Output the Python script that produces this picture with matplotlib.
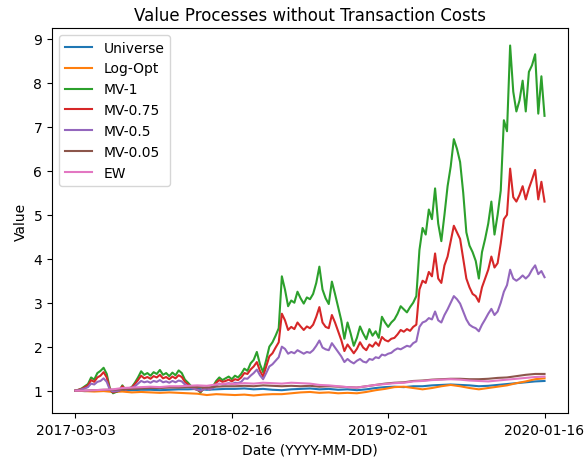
import matplotlib
matplotlib.use("Agg")
import matplotlib.pyplot as plt
import pandas as pd

start_date = "2017-03-03"
end_date = "2020-01-16"
tick_labels = ["2017-03-03", "2018-02-16", "2019-02-01", "2020-01-16"]

# weekly grid (151 points) for the MV strategies
mv_1 = [1.00, 1.02, 1.05, 1.10, 1.15, 1.30, 1.25, 1.40, 1.45, 1.52,
        1.38, 1.05, 0.94, 0.97, 1.00, 1.12, 1.02, 1.05, 1.08, 1.18,
        1.30, 1.44, 1.36, 1.40, 1.34, 1.42, 1.38, 1.47, 1.36, 1.40,
        1.33, 1.41, 1.35, 1.46, 1.40, 1.25, 1.18, 1.10, 1.05, 1.02,
        0.96, 1.05, 1.08, 1.04, 1.10, 1.22, 1.30, 1.24, 1.28, 1.32,
        1.26, 1.34, 1.30, 1.38, 1.50, 1.45, 1.62, 1.70, 1.88, 1.60,
        1.42, 1.70, 2.00, 2.10, 2.25, 2.42, 3.60, 3.30, 2.92, 3.05,
        3.00, 3.25, 3.10, 2.98, 3.12, 3.08, 3.20, 3.45, 3.82, 3.30,
        3.10, 2.97, 3.48, 3.20, 2.90, 2.60, 2.18, 2.55, 2.30, 2.02,
        2.20, 2.46, 2.30, 2.17, 2.40, 2.25, 2.35, 2.20, 2.68, 2.55,
        2.45, 2.55, 2.62, 2.75, 2.92, 2.85, 2.78, 2.90, 3.00, 3.15,
        4.20, 4.70, 4.55, 5.12, 4.90, 5.60, 4.80, 4.40, 5.00, 5.65,
        6.10, 6.72, 6.50, 6.20, 5.50, 4.60, 4.30, 4.15, 3.95, 3.55,
        4.15, 4.45, 4.80, 5.30, 4.55, 5.00, 5.55, 7.15, 6.90, 8.85,
        7.80, 7.35, 7.60, 8.05, 7.35, 8.25, 8.40, 8.65, 7.30, 8.15,
        7.25]

mv_075 = [1.00, 1.02, 1.04, 1.08, 1.12, 1.24, 1.20, 1.30, 1.34, 1.42,
          1.30, 1.03, 0.96, 0.98, 1.00, 1.10, 1.02, 1.05, 1.07, 1.15,
          1.24, 1.34, 1.28, 1.31, 1.27, 1.33, 1.30, 1.36, 1.28, 1.31,
          1.26, 1.32, 1.28, 1.35, 1.31, 1.20, 1.14, 1.08, 1.04, 1.02,
          0.98, 1.04, 1.06, 1.03, 1.08, 1.18, 1.24, 1.20, 1.22, 1.25,
          1.21, 1.26, 1.24, 1.30, 1.40, 1.38, 1.48, 1.55, 1.65, 1.45,
          1.32, 1.55, 1.78, 1.85, 1.98, 2.10, 2.75, 2.60, 2.38, 2.45,
          2.40, 2.55, 2.46, 2.38, 2.46, 2.42, 2.50, 2.68, 2.90, 2.55,
          2.45, 2.42, 2.72, 2.55, 2.35, 2.15, 1.90, 2.05, 1.95, 1.85,
          1.95, 2.10, 1.98, 1.92, 2.05, 2.00, 2.10, 2.02, 2.22, 2.15,
          2.12, 2.18, 2.20, 2.28, 2.38, 2.34, 2.40, 2.36, 2.45, 2.50,
          3.30, 3.50, 3.45, 3.70, 3.60, 4.12, 3.55, 3.45, 3.85, 4.05,
          4.40, 4.75, 4.60, 4.45, 4.00, 3.55, 3.35, 3.20, 3.15, 3.02,
          3.35, 3.55, 3.75, 4.05, 3.80, 3.90, 4.35, 4.90, 5.00, 6.05,
          5.40, 5.30, 5.45, 5.65, 5.35, 5.60, 5.80, 6.02, 5.35, 5.75,
          5.30]

mv_05 = [1.00, 1.01, 1.03, 1.05, 1.08, 1.16, 1.14, 1.20, 1.22, 1.28,
         1.20, 1.02, 0.98, 0.99, 1.00, 1.06, 1.02, 1.04, 1.05, 1.10,
         1.16, 1.22, 1.19, 1.21, 1.18, 1.22, 1.20, 1.24, 1.19, 1.21,
         1.18, 1.22, 1.19, 1.23, 1.21, 1.14, 1.10, 1.06, 1.04, 1.02,
         1.00, 1.03, 1.05, 1.03, 1.06, 1.12, 1.16, 1.14, 1.15, 1.17,
         1.15, 1.18, 1.17, 1.20, 1.28, 1.27, 1.34, 1.40, 1.48, 1.35,
         1.26, 1.40, 1.55, 1.60, 1.68, 1.76, 2.00, 1.95, 1.84, 1.88,
         1.85, 1.92, 1.88, 1.84, 1.88, 1.86, 1.92, 2.02, 2.14, 1.98,
         1.94, 1.92, 2.08, 1.98, 1.88, 1.78, 1.65, 1.72, 1.66, 1.62,
         1.68, 1.72, 1.66, 1.64, 1.72, 1.70, 1.76, 1.74, 1.82, 1.80,
         1.84, 1.86, 1.92, 1.96, 1.94, 1.98, 2.02, 2.00, 2.08, 2.12,
         2.45, 2.55, 2.58, 2.65, 2.62, 2.80, 2.60, 2.55, 2.72, 2.85,
         3.00, 3.15, 3.08, 2.98, 2.80, 2.62, 2.50, 2.45, 2.42, 2.35,
         2.50, 2.62, 2.75, 2.86, 2.72, 2.80, 3.00, 3.25, 3.40, 3.75,
         3.55, 3.50, 3.55, 3.62, 3.55, 3.62, 3.75, 3.85, 3.65, 3.72,
         3.58]

# three-weekly grid (51 points) for the flatter strategies
universe = [1.00, 0.99, 1.00, 1.01, 1.00, 1.01, 1.01, 1.02, 1.02, 1.01,
            1.02, 1.03, 1.03, 1.04, 1.02, 1.03, 1.04, 1.04, 1.05, 1.03,
            1.04, 1.02, 1.01, 1.03, 1.04, 1.05, 1.03, 1.04, 1.02, 1.03,
            1.01, 1.03, 1.06, 1.08, 1.09, 1.08, 1.10, 1.10, 1.12, 1.13,
            1.14, 1.13, 1.12, 1.10, 1.11, 1.13, 1.15, 1.17, 1.19, 1.21,
            1.22]

log_opt = [1.00, 0.99, 0.98, 0.99, 0.97, 0.98, 0.96, 0.97, 0.96, 0.95,
           0.96, 0.95, 0.94, 0.93, 0.90, 0.92, 0.91, 0.90, 0.91, 0.89,
           0.91, 0.92, 0.92, 0.94, 0.96, 0.97, 0.95, 0.96, 0.94, 0.95,
           0.94, 0.97, 1.01, 1.04, 1.08, 1.09, 1.06, 1.03, 1.06, 1.10,
           1.13, 1.10, 1.06, 1.03, 1.06, 1.09, 1.12, 1.17, 1.21, 1.26,
           1.28]

mv_005 = [1.00, 1.00, 1.01, 1.02, 1.02, 1.03, 1.04, 1.05, 1.06, 1.06,
          1.07, 1.07, 1.08, 1.08, 1.07, 1.09, 1.10, 1.10, 1.11, 1.10,
          1.12, 1.11, 1.10, 1.11, 1.10, 1.11, 1.09, 1.10, 1.09, 1.08,
          1.07, 1.10, 1.13, 1.16, 1.18, 1.19, 1.22, 1.23, 1.25, 1.26,
          1.27, 1.27, 1.26, 1.26, 1.27, 1.29, 1.30, 1.33, 1.36, 1.38,
          1.38]

ew = [1.00, 1.00, 1.01, 1.02, 1.03, 1.06, 1.07, 1.08, 1.09, 1.08,
      1.10, 1.10, 1.11, 1.12, 1.11, 1.14, 1.16, 1.15, 1.17, 1.16,
      1.18, 1.17, 1.16, 1.18, 1.17, 1.16, 1.13, 1.12, 1.10, 1.08,
      1.07, 1.10, 1.13, 1.15, 1.17, 1.18, 1.21, 1.22, 1.24, 1.25,
      1.26, 1.25, 1.23, 1.22, 1.21, 1.23, 1.25, 1.27, 1.29, 1.31,
      1.32]

dates_fine = pd.date_range(start_date, end_date, periods=len(mv_1))
dates_coarse = pd.date_range(start_date, end_date, periods=len(ew))

series = [
    ("Universe", dates_coarse, universe, "#1f77b4"),
    ("Log-Opt", dates_coarse, log_opt, "#ff7f0e"),
    ("MV-1", dates_fine, mv_1, "#2ca02c"),
    ("MV-0.75", dates_fine, mv_075, "#d62728"),
    ("MV-0.5", dates_fine, mv_05, "#9467bd"),
    ("MV-0.05", dates_coarse, mv_005, "#8c564b"),
    ("EW", dates_coarse, ew, "#e377c2"),
]

fig = plt.figure(figsize=(5.87, 4.64), dpi=100)
ax = fig.add_axes([0.0886, 0.1078, 0.879, 0.8297])
for name, d, v, c in series:
    ax.plot(d, v, label=name, color=c, linewidth=1.5)

ax.set_xticks(pd.to_datetime(tick_labels))
ax.set_xticklabels(tick_labels)
ax.set_title("Value Processes without Transaction Costs")
ax.set_xlabel("Date (YYYY-MM-DD)")
ax.set_ylabel("Value")
ax.legend(loc="upper left")
fig.savefig("out.png", dpi=100)
